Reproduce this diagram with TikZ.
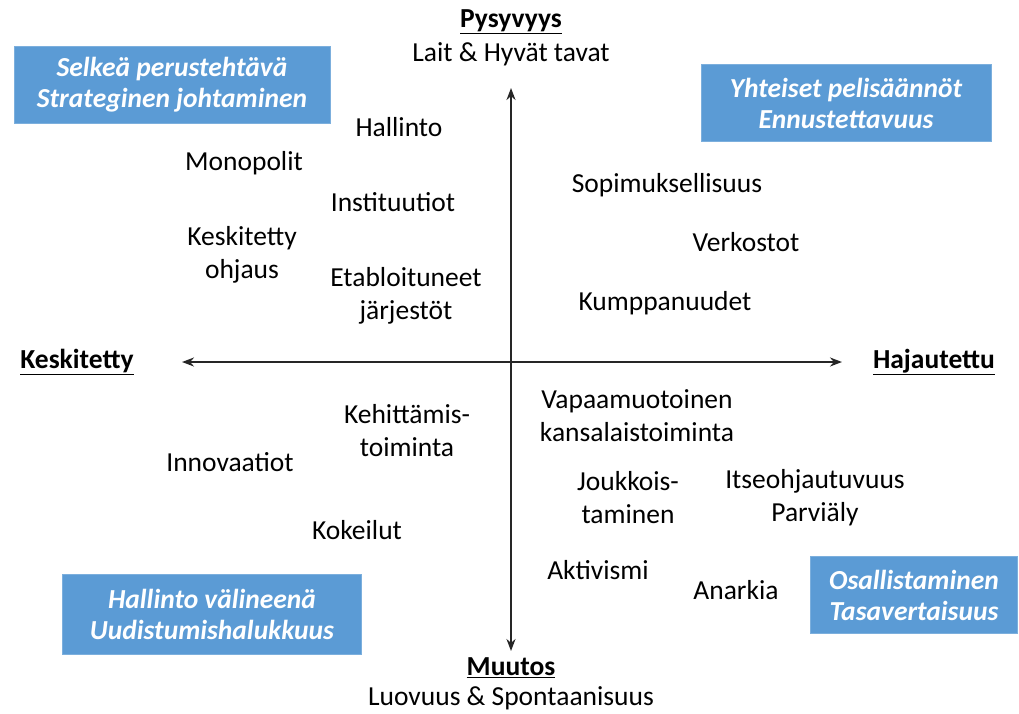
\documentclass[tikz,border=0pt]{standalone}
\usepackage{fontspec}
\setmainfont{Carlito}
\usepackage{tikz}
\usetikzlibrary{arrows.meta}

\definecolor{boxblue}{HTML}{5B9BD5}

\begin{document}
\begin{tikzpicture}[
  x=1pt, y=-1pt,
  goal/.style={rectangle, fill=boxblue, draw=boxblue!80!white, align=center, text=white, font=\fontsize{27.5}{31}\selectfont\bfseries\itshape, inner sep=0pt},
  item/.style={align=center, font=\fontsize{27.5}{33}\selectfont, inner sep=1pt},
  pole/.style={align=center, font=\fontsize{27.5}{31}\selectfont\bfseries},
  sub/.style={align=center, font=\fontsize{27.5}{31}\selectfont},
  axis/.style={{Stealth[length=12pt,width=9pt]}-{Stealth[length=12pt,width=9pt]}, line width=2.2pt, black!85},
]
\useasboundingbox (0,0) rectangle (1019,713);

% ── AXES ──
\node[pole] (top) at (511,22) {\underline{Pysyvyys}};
\node[sub] (topsub) at (511,54) {Lait \& Hyvät tavat};
\node[pole] (bottom) at (511,668) {\underline{Muutos}};
\node[sub] (bottomsub) at (511,698) {Luovuus \& Spontaanisuus};
\node[pole] (left) at (77,362) {\underline{Keskitetty}};
\node[pole] (right) at (934,362) {\underline{Hajautettu}};

\coordinate (ytop) at (511,88);
\coordinate (ybot) at (511,651);
\coordinate (xl) at (182,362);
\coordinate (xr) at (842,362);
\draw[axis] (ybot) -- (ytop);
\draw[axis] (xl) -- (xr);

% ── CORNER BOXES ──
\node[goal, minimum width=316pt, minimum height=77pt] (nw) at (172,85) {Selkeä perustehtävä\\Strateginen johtaminen};
\node[goal, minimum width=290pt, minimum height=77pt] (ne) at (846,103) {Yhteiset pelisäännöt\\Ennustettavuus};
\node[goal, minimum width=299pt, minimum height=80pt] (sw) at (212,614) {Hallinto välineenä\\Uudistumishalukkuus};
\node[goal, minimum width=207pt, minimum height=77pt] (se) at (914,595) {Osallistaminen\\Tasavertaisuus};

% ── UPPER LEFT ──
\node[item] (hallinto) at (399,127) {Hallinto};
\node[item] (monopolit) at (244,163) {Monopolit};
\node[item] (instituutiot) at (393,202) {Instituutiot};
\node[item] (keskohjaus) at (242,255) {Keskitetty\\ohjaus};
\node[item] (etabl) at (406,296) {Etabloituneet\\järjestöt};

% ── UPPER RIGHT ──
\node[item] (sopim) at (667,185) {Sopimuksellisuus};
\node[item] (verkostot) at (746,242) {Verkostot};
\node[item] (kumpp) at (665,303) {Kumppanuudet};

% ── LOWER LEFT ──
\node[item] (kehitt) at (407,431) {Kehittämis-\\toiminta};
\node[item] (innov) at (230,462) {Innovaatiot};
\node[item] (kokeilut) at (357,530) {Kokeilut};

% ── LOWER RIGHT ──
\node[item] (vapaa) at (637,416) {Vapaamuotoinen\\kansalaistoiminta};
\node[item] (joukko) at (628,498) {Joukkois-\\taminen};
\node[item] (itseohj) at (815,498) {Itseohjautuvuus\\Parviäly};
\node[item] (aktiv) at (598,570) {Aktivismi};
\node[item] (anarkia) at (736,590) {Anarkia};

\end{tikzpicture}
\end{document}
